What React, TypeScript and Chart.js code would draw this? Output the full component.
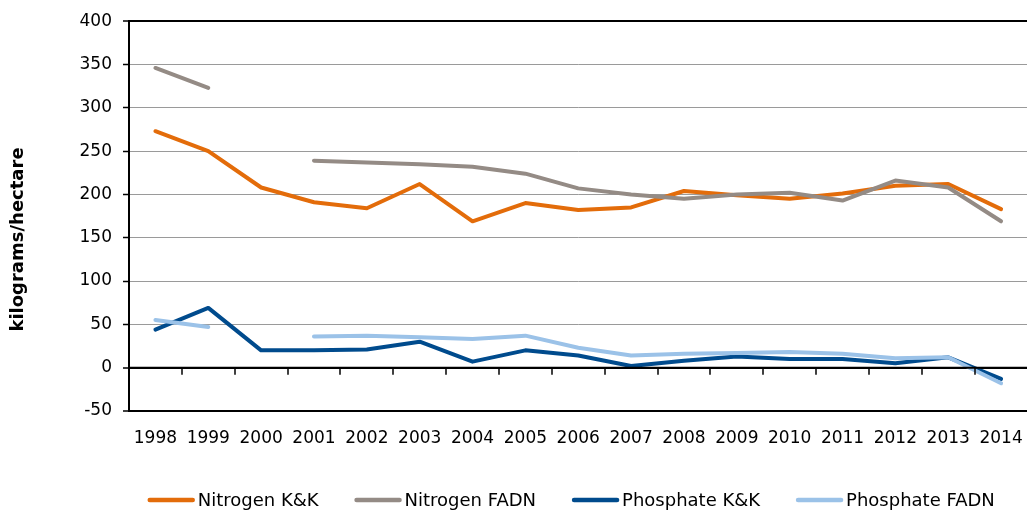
import React, { useEffect, useRef } from "react";
import { Chart, registerables } from "chart.js";

Chart.register(...registerables);

const years = ["1998","1999","2000","2001","2002","2003","2004","2005","2006","2007","2008","2009","2010","2011","2012","2013","2014"];
const nitrogenKK = [273, 250, 208, 191, 184, 212, 169, 190, 182, 185, 204, 199, 195, 201, 210, 212, 183];
const nitrogenFADN = [346, 323, null, 239, 237, 235, 232, 224, 207, 200, 195, 200, 202, 193, 216, 208, 169];
const phosphateKK = [44, 69, 20, 20, 21, 30, 7, 20, 14, 2, 8, 13, 10, 10, 5, 12, -13];
const phosphateFADN = [55, 47, null, 36, 37, 35, 33, 37, 23, 14, 16, 17, 18, 16, 11, 12, -18];
const seriesNames = ["Nitrogen K&K", "Nitrogen FADN", "Phosphate K&K", "Phosphate FADN"];
const seriesColors = ["#E36C0A", "#948B85", "#004B8D", "#9BC2E8"];
const yTitle = "kilograms/hectare";

const FONT = "'DejaVu Sans', Verdana, sans-serif";

const zeroAxisPlugin = {
  id: "zeroAxis",
  afterDatasetsDraw(chart: any) {
    const { ctx, chartArea, scales } = chart;
    const x = scales.x;
    const y = scales.y;
    const y0 = y.getPixelForValue(0);
    ctx.save();
    ctx.strokeStyle = "#000";
    ctx.lineWidth = 2;
    ctx.beginPath();
    ctx.moveTo(chartArea.left, y0);
    ctx.lineTo(chartArea.right, y0);
    ctx.stroke();
    ctx.lineWidth = 1.5;
    for (let i = 0; i < years.length - 1; i++) {
      const bx = Math.round((x.getPixelForValue(i) + x.getPixelForValue(i + 1)) / 2);
      ctx.beginPath();
      ctx.moveTo(bx, y0);
      ctx.lineTo(bx, y0 + 7);
      ctx.stroke();
    }
    ctx.restore();
  },
};

const titleLegendPlugin = {
  id: "titleLegend",
  afterDraw(chart: any) {
    const { ctx, chartArea } = chart;
    ctx.save();
    // y-axis title
    ctx.font = `bold 18px ${FONT}`;
    ctx.fillStyle = "#000";
    ctx.textAlign = "center";
    ctx.textBaseline = "middle";
    ctx.translate(18, chartArea.top + (chartArea.bottom - chartArea.top) * 0.56);
    ctx.rotate(-Math.PI / 2);
    ctx.fillText(yTitle, 0, 0);
    ctx.restore();

    // legend
    ctx.save();
    ctx.font = `18px ${FONT}`;
    const lineLen = 47;
    const gap = 3;
    const spacing = 36;
    const ds = chart.data.datasets;
    const widths = ds.map((d: any) => lineLen + gap + ctx.measureText(d.label).width);
    const total = widths.reduce((a: number, b: number) => a + b, 0) + spacing * (ds.length - 1);
    let cx = (chartArea.left + chartArea.right) / 2 - 7 - total / 2;
    const ly = 500;
    ds.forEach((d: any, i: number) => {
      ctx.strokeStyle = d.borderColor;
      ctx.lineWidth = 4.5;
      ctx.lineCap = "round";
      ctx.beginPath();
      ctx.moveTo(cx + 2, ly);
      ctx.lineTo(cx + lineLen - 2, ly);
      ctx.stroke();
      ctx.fillStyle = "#000";
      ctx.textAlign = "left";
      ctx.textBaseline = "middle";
      ctx.fillText(d.label, cx + lineLen + gap, ly + 1);
      cx += widths[i] + spacing;
    });
    ctx.restore();
  },
};

export default function App() {
  const ref = useRef<HTMLCanvasElement>(null);
  useEffect(() => {
    if (!ref.current) return;
    const data = [nitrogenKK, nitrogenFADN, phosphateKK, phosphateFADN];
    const chart = new Chart(ref.current, {
      type: "line",
      data: {
        labels: years,
        datasets: data.map((d, i) => ({
          label: seriesNames[i],
          data: d,
          borderColor: seriesColors[i],
          backgroundColor: seriesColors[i],
          borderWidth: 4,
          pointRadius: 0,
          tension: 0,
          spanGaps: false,
          borderJoinStyle: "round" as const,
          borderCapStyle: "round" as const,
          order: 4 - i,
        })),
      },
      options: {
        animation: false,
        responsive: false,
        layout: { padding: { top: 19, right: 10, bottom: 0, left: 0 } },
        plugins: { legend: { display: false }, tooltip: { enabled: false } },
        scales: {
          x: {
            type: "category",
            offset: true,
            grid: { display: false, offset: true, drawTicks: false },
            border: { display: true, color: "#000", width: 2 },
            ticks: {
              color: "#000",
              font: { family: FONT, size: 17 },
              padding: 17,
              maxRotation: 0,
              autoSkip: false,
            },
            afterFit(scale: any) {
              scale.height = 100;
            },
          },
          y: {
            min: -50,
            max: 400,
            ticks: {
              stepSize: 50,
              color: "#000",
              font: { family: FONT, size: 17 },
              padding: 11,
            },
            grid: {
              color: (c: any) => (c.tick && (c.tick.value === 400 || c.tick.value === -50 || c.tick.value === 0) ? "#000" : "#9a9a9a"),
              lineWidth: (c: any) => (c.tick && (c.tick.value === 400 || c.tick.value === -50 || c.tick.value === 0) ? 2 : 1),
              tickColor: "#000",
              tickLength: 6,
              tickWidth: 1.5,
            },
            border: { display: true, color: "#000", width: 2 },
            afterFit(scale: any) {
              scale.width = 129;
            },
          },
        },
      },
      plugins: [zeroAxisPlugin, titleLegendPlugin],
    });
    return () => chart.destroy();
  }, []);
  return (
    <div style={{ position: "absolute", left: 0, top: 0, width: 1027, height: 511, overflow: "hidden", background: "#fff" }}>
      <canvas ref={ref} width={1040} height={511} style={{ display: "block", width: 1040, height: 511 }} />
    </div>
  );
}
